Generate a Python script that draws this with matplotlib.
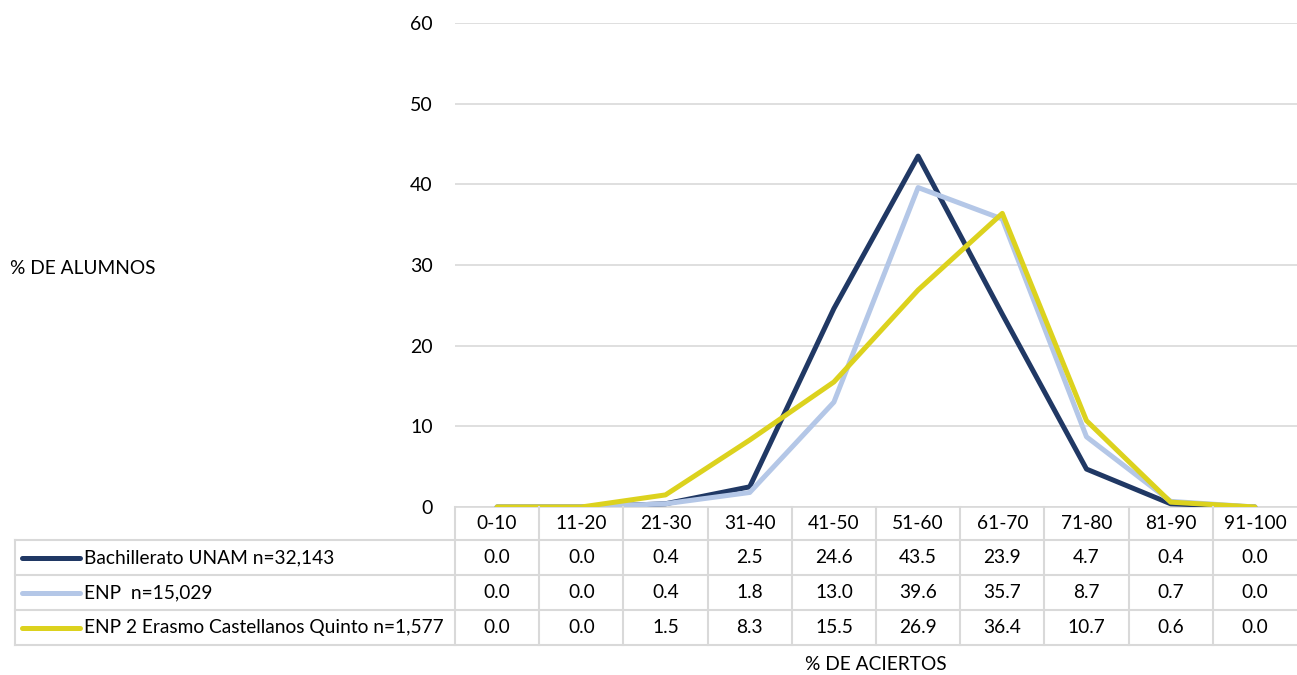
import numpy as np
import matplotlib
matplotlib.use("Agg")
import matplotlib.pyplot as plt

plt.rcParams["font.family"] = ["Lato", "DejaVu Sans"]

categorias = ["0-10", "11-20", "21-30", "31-40", "41-50", "51-60", "61-70", "71-80", "81-90", "91-100"]
series = [
    "Bachillerato UNAM n=32,143",
    "ENP  n=15,029",
    "ENP 2 Erasmo Castellanos Quinto n=1,577",
]
bachillerato = [0.0, 0.0, 0.4, 2.5, 24.6, 43.5, 23.9, 4.7, 0.4, 0.0]
enp = [0.0, 0.0, 0.4, 1.8, 13.0, 39.6, 35.7, 8.7, 0.7, 0.0]
enp2 = [0.0, 0.0, 1.5, 8.3, 15.5, 26.9, 36.4, 10.7, 0.6, 0.0]
valores = [bachillerato, enp, enp2]
colores = ["#203864", "#b4c7e7", "#dcd21e"]

W, H = 1297, 675
fig = plt.figure(figsize=(W / 100, H / 100), dpi=100)

# area del grafico en pixeles
px_left, px_right, px_top, px_bottom = 455, 1297, 23, 507
ax = fig.add_axes([px_left / W, 1 - px_bottom / H, (px_right - px_left) / W, (px_bottom - px_top) / H])

x = np.arange(len(categorias))
for vals, c in zip(valores, colores):
    ax.plot(x, vals, color=c, lw=3.6, solid_capstyle="round", zorder=3)

ax.set_xlim(-0.5, len(categorias) - 0.5)
ax.set_ylim(0, 60)
ax.set_yticks(range(0, 61, 10))
ax.yaxis.grid(True, color="#d9d9d9", lw=1.2)
ax.set_axisbelow(True)
ax.set_xticks([])
ax.tick_params(axis="y", length=0, labelsize=14, pad=16)
for s in ["top", "right", "left"]:
    ax.spines[s].set_visible(False)
ax.spines["bottom"].set_color("#d9d9d9")
ax.spines["bottom"].set_linewidth(1.2)

# tabla de datos debajo del grafico
def fx(px):
    return px / W

def fy(py):
    return 1 - py / H

gris = "#d9d9d9"
col_w = (px_right - px_left) / len(categorias)
filas_y = [507, 540, 575, 610, 645]
tabla_izq = 15

for yy in filas_y[1:]:
    fig.add_artist(plt.Line2D([fx(tabla_izq), fx(px_right)], [fy(yy), fy(yy)], color=gris, lw=1.5))
for i in range(len(categorias)):
    xx = px_left + i * col_w
    fig.add_artist(plt.Line2D([fx(xx), fx(xx)], [fy(filas_y[0]), fy(filas_y[-1])], color=gris, lw=1.5))
fig.add_artist(plt.Line2D([fx(tabla_izq), fx(tabla_izq)], [fy(filas_y[1]), fy(filas_y[-1])], color=gris, lw=1.5))

fs = 13.8
for i, cat in enumerate(categorias):
    cx = px_left + (i + 0.5) * col_w
    fig.text(fx(cx), fy((filas_y[0] + filas_y[1]) / 2), cat, ha="center", va="center", fontsize=fs)

for r, (nombre, vals, c) in enumerate(zip(series, valores, colores)):
    cy = (filas_y[r + 1] + filas_y[r + 2]) / 2
    fig.add_artist(plt.Line2D([fx(22), fx(80)], [fy(cy), fy(cy)], color=c, lw=3.6, solid_capstyle="round"))
    fig.text(fx(84), fy(cy), nombre, ha="left", va="center", fontsize=fs)
    for i, v in enumerate(vals):
        cx = px_left + (i + 0.5) * col_w
        fig.text(fx(cx), fy(cy), f"{v:.1f}", ha="center", va="center", fontsize=fs)

fig.text(fx(10), fy(268), "% DE ALUMNOS", ha="left", va="center", fontsize=fs)
fig.text(fx(876), fy(664), "% DE ACIERTOS", ha="center", va="center", fontsize=fs)

fig.savefig("out.png", dpi=100, facecolor="white")
